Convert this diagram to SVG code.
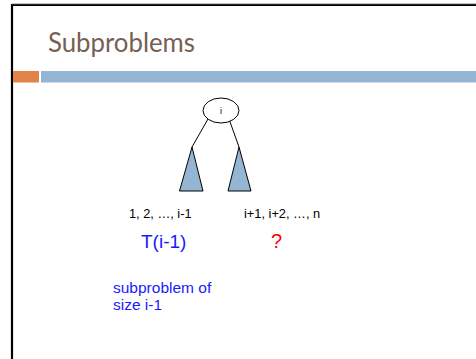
<svg xmlns="http://www.w3.org/2000/svg" width="476" height="359" viewBox="0 0 476 359">
<style>
.lbl{font-family:"Liberation Sans",Arial,sans-serif;fill:#000}
.blue{font-family:"Liberation Sans",Arial,sans-serif;fill:#1a1aff}
.tri{fill:#94b6d2;stroke:#000;stroke-width:1}
.edge{stroke:#000;stroke-width:1;fill:none}
</style>
<rect x="0" y="0" width="476" height="359" fill="#fff"/>
<path d="M12,359 V5 H476" fill="none" stroke="#000" stroke-width="2.2"/>
<line x1="12" y1="3.8" x2="476" y2="3.8" stroke="#999" stroke-width="0.8"/>
<text x="48" y="52" font-family="Lato,'Open Sans',sans-serif" font-size="27" fill="#775f55" textLength="147" lengthAdjust="spacingAndGlyphs">Subproblems</text>
<rect x="13" y="71" width="26" height="11.5" fill="#e0844a"/>
<rect x="41" y="71" width="435" height="11.5" fill="#94b6d2"/>
<g id="connectors">
<line class="edge" x1="208" y1="119" x2="192" y2="147"/>
<line class="edge" x1="229" y1="119" x2="239" y2="147"/>
</g>
<g id="root">
<ellipse cx="221" cy="110.5" rx="18" ry="12.5" fill="#fff" stroke="#000" stroke-width="1"/>
<text class="lbl" x="221" y="114" font-size="9" text-anchor="middle">i</text>
</g>
<g id="left-subtree">
<polygon class="tri" points="192,147 179.5,191 203,191"/>
</g>
<g id="right-subtree">
<polygon class="tri" points="239,147 228,191 251,191"/>
</g>
<g id="left-label">
<text class="lbl" x="129" y="218" font-size="12.8">1, 2, …, i-1</text>
<text class="blue" x="141" y="248" font-size="19">T(i-1)</text>
</g>
<g id="right-label">
<text class="lbl" x="244" y="218" font-size="12.8">i+1, i+2, …, n</text>
<text x="276.5" y="248" font-family="'Liberation Sans',Arial,sans-serif" font-size="20" fill="#ff0000" text-anchor="middle">?</text>
</g>
<g id="note">
<text class="blue" x="113" y="293" font-size="15.5">subproblem of</text>
<text class="blue" x="113" y="310" font-size="15.5">size i-1</text>
</g>
</svg>
